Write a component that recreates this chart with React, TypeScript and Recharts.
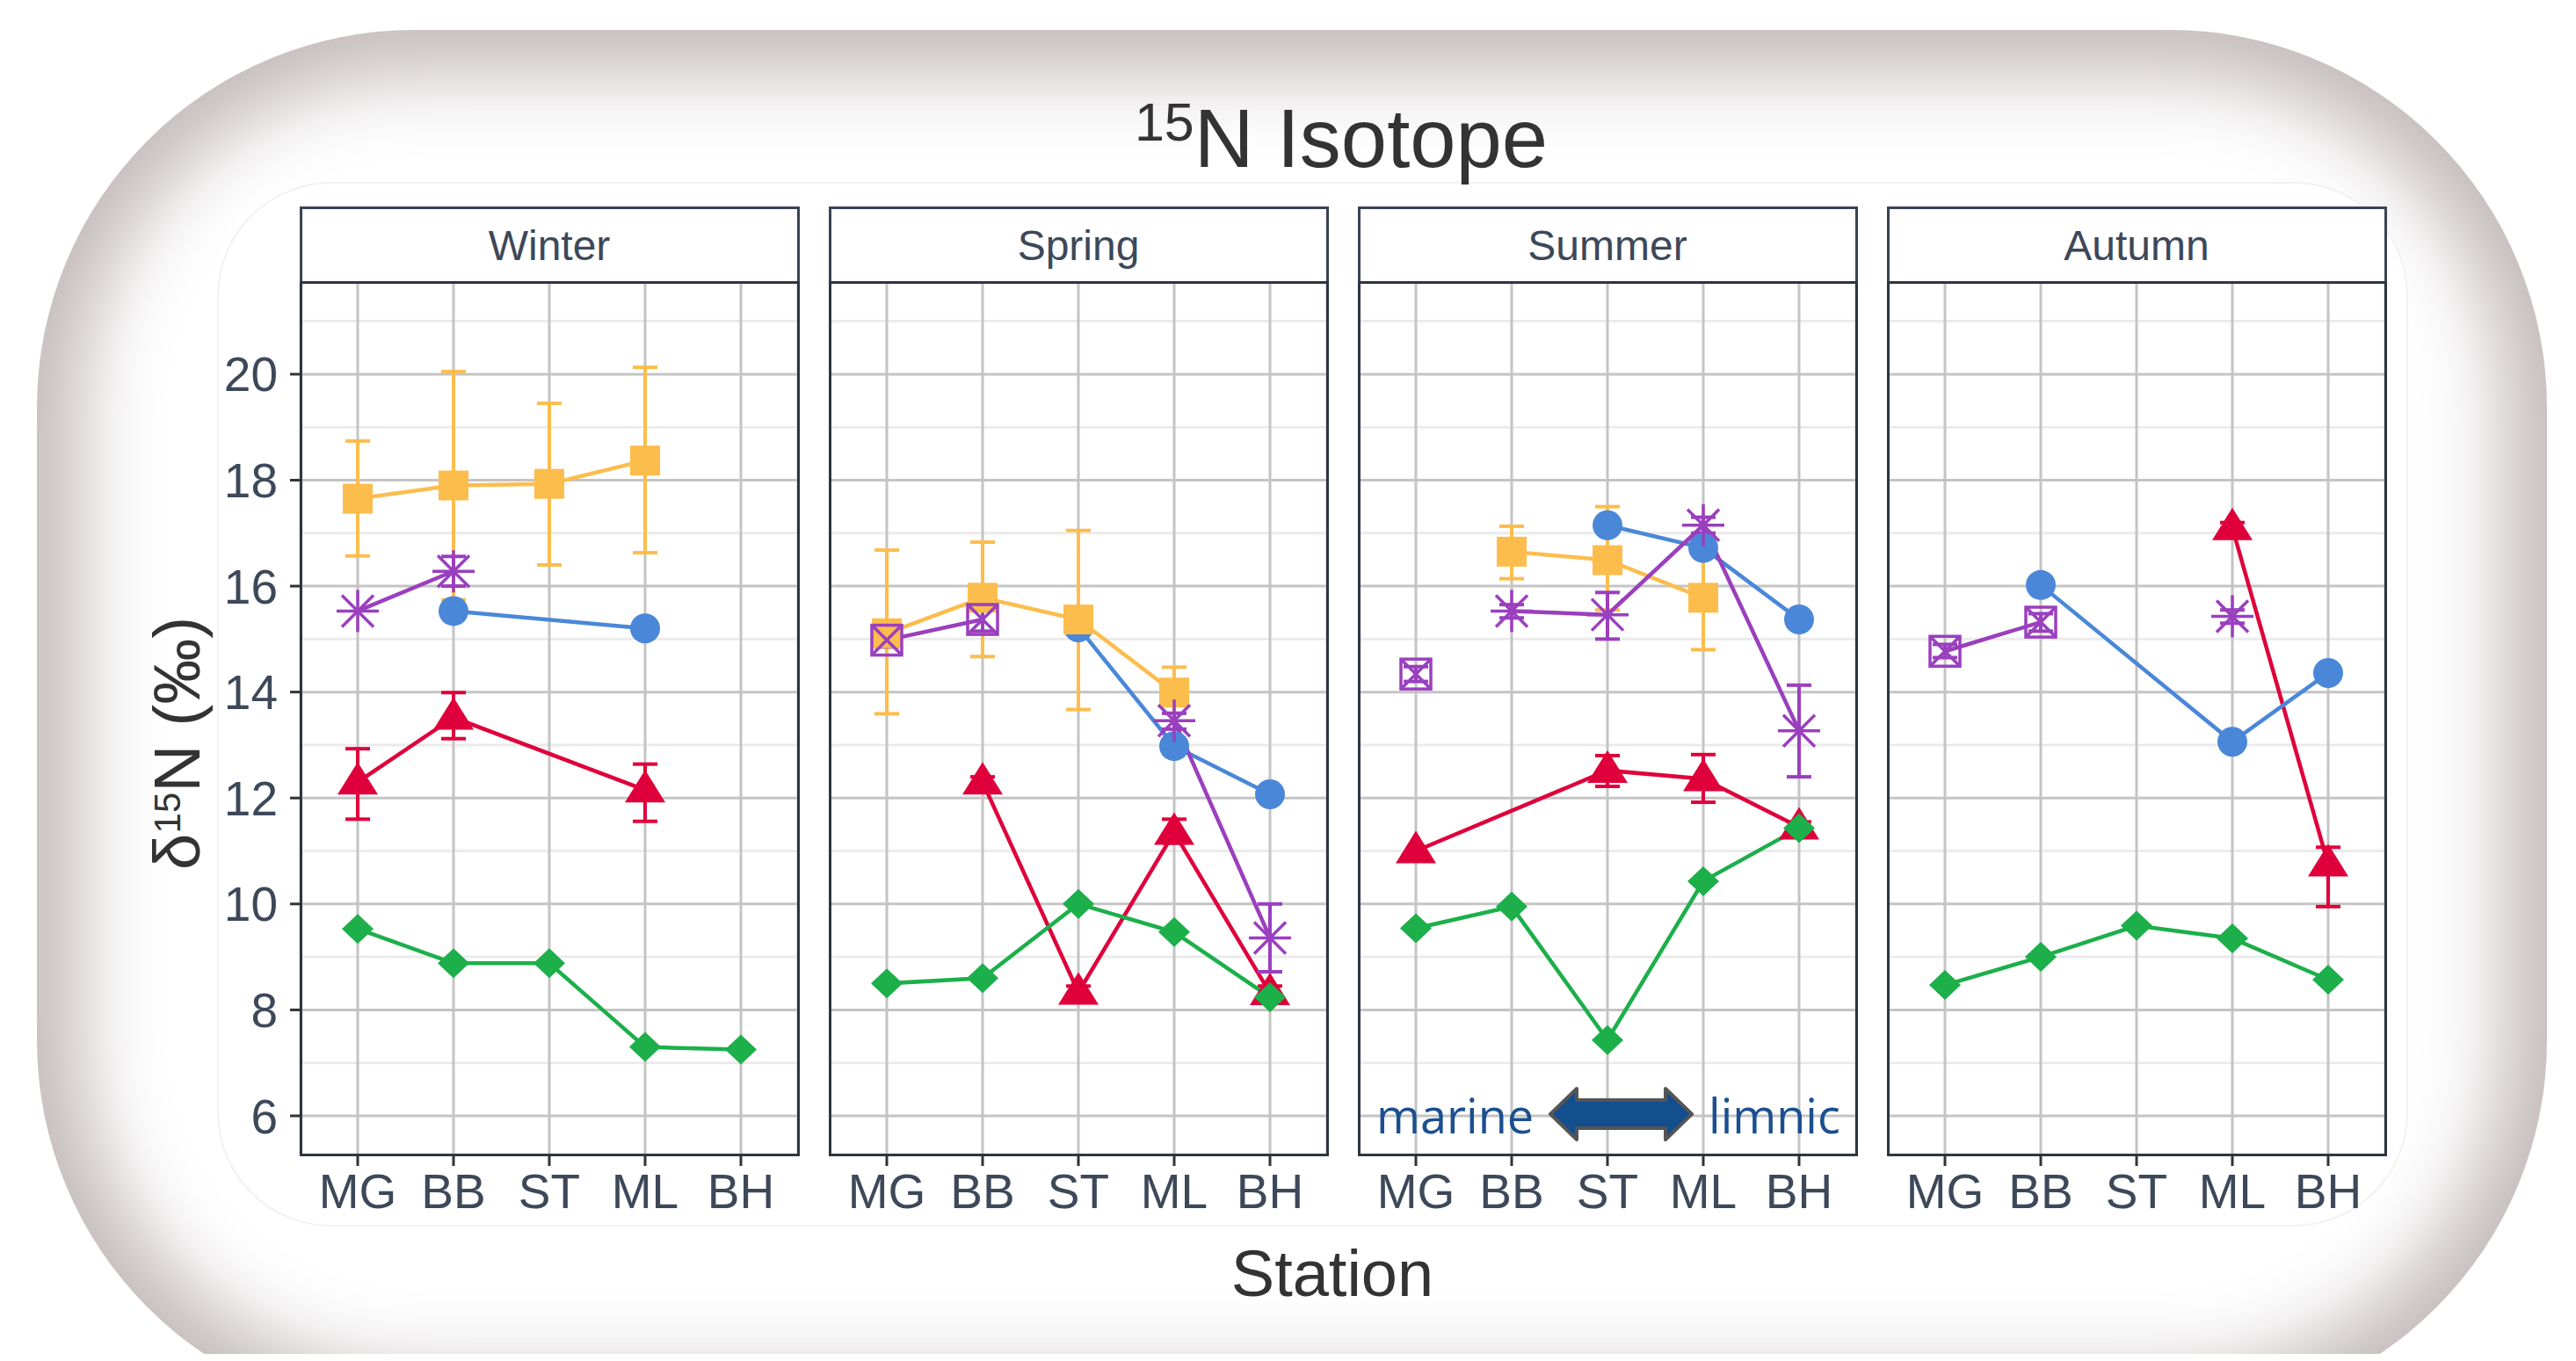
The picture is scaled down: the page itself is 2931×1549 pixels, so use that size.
import React from 'react';
import { LineChart, Line, XAxis, YAxis, CartesianGrid, ErrorBar } from 'recharts';

const stations = ['MG', 'BB', 'ST', 'ML', 'BH'];
const seasons = ['Winter', 'Spring', 'Summer', 'Autumn'];
const majorTicks = [6, 8, 10, 12, 14, 16, 18, 20];
const minorTicks = [7, 9, 11, 13, 15, 17, 19, 21];
const yDomain = [5.27, 21.74];

// one row per season (Winter, Spring, Summer, Autumn), one value per station
const squareMean = [
  [17.65, 17.9, 17.93, 18.37, null],
  [15.11, 15.78, 15.37, 13.99, null],
  [null, 16.65, 16.49, 15.78, null],
  [null, null, null, null, null],
];
const squareLo = [
  [16.57, 15.74, 16.4, 16.63, null],
  [13.59, 14.67, 13.67, 13.6, null],
  [null, 16.14, 15.55, 14.8, null],
  [null, null, null, null, null],
];
const squareHi = [
  [18.74, 20.05, 19.45, 20.13, null],
  [16.68, 16.83, 17.05, 14.47, null],
  [null, 17.13, 17.5, 16.72, null],
  [null, null, null, null, null],
];

const triangleMean = [
  [12.3, 13.52, null, 12.15, null],
  [null, 12.3, 8.33, 11.35, 8.32],
  [11.0, null, 12.52, 12.36, 11.45],
  [null, null, null, 17.1, 10.75],
];
const triangleLo = [
  [11.6, 13.12, null, 11.56, null],
  [null, 12.2, 8.2, 11.15, 8.2],
  [null, null, 12.22, 11.92, 11.35],
  [null, null, null, 17.0, 9.95],
];
const triangleHi = [
  [12.93, 13.99, null, 12.64, null],
  [null, 12.4, 8.45, 11.6, 8.45],
  [null, null, 12.8, 12.82, 11.55],
  [null, null, null, 17.2, 11.07],
];

const circleMean = [
  [null, 15.53, null, 15.2, null],
  [null, null, 15.22, 12.98, 12.07],
  [null, null, 17.15, 16.72, 15.37],
  [null, 16.02, null, 13.06, 14.36],
];

const diamondMean = [
  [9.53, 8.88, 8.88, 7.3, 7.25],
  [8.5, 8.6, 10.0, 9.47, 8.24],
  [9.54, 9.95, 7.43, 10.43, 11.43],
  [8.47, 9.0, 9.59, 9.35, 8.57],
];

const asteriskMean = [
  [15.53, 16.28, null, null, null],
  [null, null, null, 13.46, 9.36],
  [null, 15.53, 15.46, 17.15, 13.27],
  [null, null, null, 15.43, null],
];
const asteriskLo = [
  [null, 16.0, null, null, null],
  [null, null, null, 13.3, 8.72],
  [null, 15.4, 15.0, 17.0, 12.4],
  [null, null, null, 15.3, null],
];
const asteriskHi = [
  [null, 16.56, null, null, null],
  [null, null, null, 13.6, 10.0],
  [null, 15.65, 15.88, 17.3, 14.13],
  [null, null, null, 15.55, null],
];

const boxMean = [
  [null, null, null, null, null],
  [14.98, 15.37, null, null, null],
  [14.34, null, null, null, null],
  [14.77, 15.32, null, null, null],
];
const boxLo = [
  [null, null, null, null, null],
  [14.85, 15.15, null, null, null],
  [14.2, null, null, null, null],
  [14.65, 15.15, null, null, null],
];
const boxHi = [
  [null, null, null, null, null],
  [15.1, 15.55, null, null, null],
  [14.48, null, null, null, null],
  [14.9, 15.48, null, null, null],
];

const YELLOW = '#fcbd4d';
const RED = '#df003b';
const BLUE = '#4a87d8';
const GREEN = '#1caf4a';
const PURPLE = '#9a3fbe';

const FONT = '"Liberation Sans", Arial, Helvetica, sans-serif';
const TICK_COLOR = '#3d4859';

const PANEL_TOP = 321;
const PANEL_W = 566;
const PANEL_H = 993;
const PANEL_GAP = 36;
const FIRST_LEFT = 342;
const Y_AXIS_W = 120;
const X_AXIS_H = 100;

const series = [
  { key: 'tri', shape: 'triangle', color: RED, mean: triangleMean, lo: triangleLo, hi: triangleHi },
  { key: 'dia', shape: 'diamond', color: GREEN, mean: diamondMean },
  { key: 'cir', shape: 'circle', color: BLUE, mean: circleMean },
  { key: 'sq', shape: 'square', color: YELLOW, mean: squareMean, lo: squareLo, hi: squareHi },
  { key: 'box', shape: 'boxX', color: PURPLE, mean: boxMean, lo: boxLo, hi: boxHi },
  { key: 'ast', shape: 'asterisk', color: PURPLE, mean: asteriskMean, lo: asteriskLo, hi: asteriskHi },
];

function buildRows(s: number) {
  return stations.map((st, i) => {
    const row: any = { station: st };
    series.forEach((sr: any) => {
      const m = sr.mean[s][i];
      row[sr.key] = m;
      if (sr.lo && m != null && sr.lo[s][i] != null) {
        row[sr.key + 'Err'] = [m - sr.lo[s][i], sr.hi[s][i] - m];
      }
    });
    return row;
  });
}

function Marker({ shape, color, cx, cy }: any) {
  if (shape === 'square') return <rect x={cx - 17} y={cy - 17} width={34} height={34} fill={color} />;
  if (shape === 'circle') return <circle cx={cx} cy={cy} r={17} fill={color} />;
  if (shape === 'triangle')
    return <polygon points={`${cx},${cy - 23} ${cx - 23},${cy + 14} ${cx + 23},${cy + 14}`} fill={color} />;
  if (shape === 'diamond')
    return <polygon points={`${cx},${cy - 17} ${cx + 18},${cy} ${cx},${cy + 17} ${cx - 18},${cy}`} fill={color} />;
  if (shape === 'asterisk')
    return (
      <g stroke={color} strokeWidth={3.5}>
        <line x1={cx - 24} y1={cy} x2={cx + 24} y2={cy} />
        <line x1={cx} y1={cy - 24} x2={cx} y2={cy + 24} />
        <line x1={cx - 18} y1={cy - 18} x2={cx + 18} y2={cy + 18} />
        <line x1={cx - 18} y1={cy + 18} x2={cx + 18} y2={cy - 18} />
      </g>
    );
  return (
    <g stroke={color} strokeWidth={3.5} fill="none">
      <rect x={cx - 17} y={cy - 17} width={34} height={34} />
      <line x1={cx - 17} y1={cy - 17} x2={cx + 17} y2={cy + 17} />
      <line x1={cx - 17} y1={cy + 17} x2={cx + 17} y2={cy - 17} />
    </g>
  );
}

const makeDot = (shape: string, color: string) => (props: any) => {
  const { cx, cy, index, value } = props;
  if (value == null || cx == null || cy == null || Number.isNaN(cy)) return <g key={`e-${index}`} />;
  return <Marker key={`m-${index}`} shape={shape} color={color} cx={cx} cy={cy} />;
};

function Panel({ s }: { s: number }) {
  const withAxis = s === 0;
  const left = FIRST_LEFT + s * (PANEL_W + PANEL_GAP);
  const rows = buildRows(s);
  return (
    <>
      <div
        style={{
          position: 'absolute', left: left - 1.5, top: 235, width: PANEL_W + 3, height: 88,
          boxSizing: 'border-box', border: '3px solid #3b4352', background: '#fff',
          display: 'flex', alignItems: 'center', justifyContent: 'center',
          fontSize: 48, color: TICK_COLOR, lineHeight: 1, paddingTop: 2,
        }}
      >
        {seasons[s]}
      </div>
      <div style={{ position: 'absolute', left: withAxis ? left - Y_AXIS_W : left, top: PANEL_TOP }}>
        <LineChart
          width={PANEL_W + (withAxis ? Y_AXIS_W : 0)}
          height={PANEL_H + X_AXIS_H}
          data={rows}
          margin={{ top: 0, right: 0, bottom: 0, left: 0 }}
        >
          <CartesianGrid horizontalValues={minorTicks} vertical={false} stroke="#ebebeb" strokeWidth={3} />
          <CartesianGrid horizontalValues={majorTicks} stroke="#c4c4c4" strokeWidth={3} />
          <XAxis
            dataKey="station"
            type="category"
            interval={0}
            padding={{ left: 65, right: 65 }}
            height={X_AXIS_H}
            axisLine={false}
            tickSize={13}
            tickMargin={9}
            tickLine={{ stroke: '#333', strokeWidth: 3 }}
            tick={{ fontSize: 55, fill: TICK_COLOR, fontFamily: FONT }}
          />
          <YAxis
            hide={!withAxis}
            type="number"
            domain={yDomain}
            ticks={majorTicks}
            interval={0}
            width={Y_AXIS_W}
            axisLine={false}
            tickSize={12}
            tickMargin={14}
            tickLine={{ stroke: '#333', strokeWidth: 3 }}
            tick={{ fontSize: 55, fill: TICK_COLOR, fontFamily: FONT }}
          />
          {series.map((sr: any) => (
            <Line
              key={sr.key}
              type="linear"
              dataKey={sr.key}
              stroke={sr.color}
              strokeWidth={4.5}
              connectNulls
              dot={makeDot(sr.shape, sr.color)}
              activeDot={false}
              isAnimationActive={false}
            >
              {sr.lo && (
                <ErrorBar dataKey={sr.key + 'Err'} direction="y" width={14} stroke={sr.color} strokeWidth={4} />
              )}
            </Line>
          ))}
        </LineChart>
      </div>
      <div
        style={{
          position: 'absolute', left: left - 1.5, top: PANEL_TOP - 1.5, width: PANEL_W + 3, height: PANEL_H + 3,
          boxSizing: 'border-box', border: '3px solid #2f3540', pointerEvents: 'none',
        }}
      />
    </>
  );
}

export default function App() {
  return (
    <div
      style={{
        position: 'relative', width: 2931, height: 1549, margin: -8, overflow: 'hidden',
        background: '#fff', fontFamily: FONT,
      }}
    >
      {/* soft rounded frame */}
      <div
        style={{
          position: 'absolute', left: 42, top: 34, width: 2856, height: 1580, borderRadius: 430,
          background: '#fff', boxShadow: 'inset 0 0 90px 50px #c4bbbb',
        }}
      />
      <div
        style={{
          position: 'absolute', left: 247, top: 207, width: 2493, height: 1189, borderRadius: 130,
          boxSizing: 'border-box', border: '2px solid #f1f1f1', background: '#fff',
        }}
      />
      {seasons.map((_, s) => (
        <Panel key={s} s={s} />
      ))}
      <svg width={2931} height={1549} style={{ position: 'absolute', left: 0, top: 0, pointerEvents: 'none' }}>
        <text x={1526} y={190} textAnchor="middle" fontSize={94} fill="#333" fontFamily={FONT}>
          <tspan fontSize={61} dy={-30}>15</tspan>
          <tspan dy={30}>N Isotope</tspan>
        </text>
        <text transform="translate(227,846) rotate(-90)" textAnchor="middle" fontSize={75} fill="#333" fontFamily={FONT}>
          δ<tspan fontSize={42} dy={-22}>15</tspan>
          <tspan dy={22}>N (‰)</tspan>
        </text>
        <text x={1516} y={1475} textAnchor="middle" fontSize={74} fill="#333" fontFamily={FONT}>
          Station
        </text>
        <text x={1566} y={1290} fontSize={54} fill="#1b4f8f" fontFamily='"Open Sans", sans-serif'>
          marine
        </text>
        <polygon
          points="1764,1268 1794,1239 1794,1252 1895,1252 1895,1239 1925,1268 1895,1297 1895,1284 1794,1284 1794,1297"
          fill="#134e8e"
          stroke="#555"
          strokeWidth={4}
          strokeLinejoin="round"
        />
        <text x={1944} y={1290} fontSize={54} fill="#1b4f8f" fontFamily='"Open Sans", sans-serif'>
          limnic
        </text>
      </svg>
    </div>
  );
}
